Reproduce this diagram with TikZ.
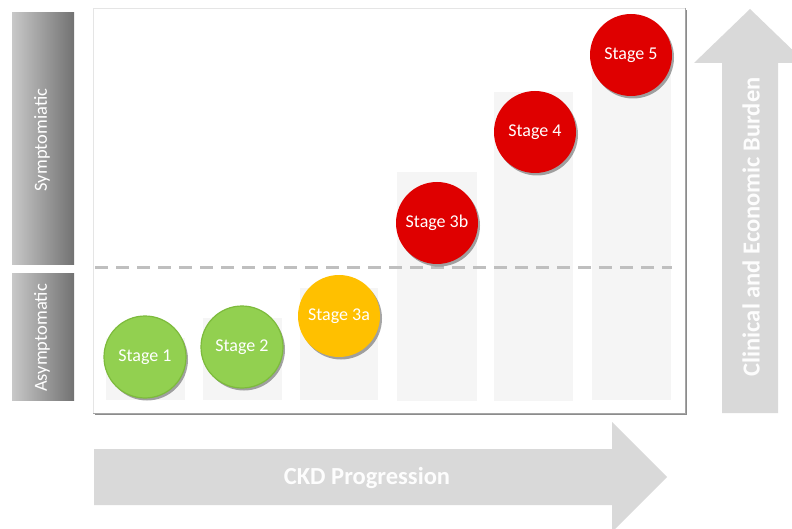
\documentclass[tikz,border=0pt]{standalone}
\usepackage{fontspec}
\setmainfont{Carlito}
\usetikzlibrary{shadows}
\definecolor{colgray}{HTML}{F5F5F5}
\definecolor{arrgray}{HTML}{D9D9D9}
\definecolor{dashgray}{HTML}{BFBFBF}
\definecolor{stgreen}{HTML}{92D050}
\definecolor{stgreenedge}{HTML}{7DBB3C}
\definecolor{styellow}{HTML}{FFC000}
\definecolor{stred}{HTML}{DF0000}
\definecolor{barlight}{HTML}{C8C8C8}
\definecolor{bardark}{HTML}{727272}
\tikzset{
  stage/.style={circle, minimum size=82pt, inner sep=0pt, text=white, font=\fontsize{18}{20}\selectfont,
    drop shadow={shadow xshift=2pt, shadow yshift=-2.5pt, opacity=.35, fill=black}},
  colbar/.style={fill=colgray, draw=none},
  sidebar/.style={left color=barlight, right color=bardark, draw=none},
  sidetext/.style={text=white, rotate=90, font=\fontsize{18.5}{20}\selectfont},
  bigarrow/.style={fill=arrgray, draw=none},
  arrowtext/.style={text=white!95!arrgray, font=\bfseries\fontsize{24.5}{26}\selectfont}
}
\begin{document}
\begin{tikzpicture}[x=1pt,y=-1pt]
\useasboundingbox (0,0) rectangle (792,529);
\fill[white] (0,0) rectangle (792,529);
% side bars
\shade[sidebar] (12,13) rectangle (74,265);
\shade[sidebar] (12,274) rectangle (74,400);
\node[sidetext] (sym) at (42,140) {Symptomiatic};
\node[sidetext] (asym) at (42,338) {Asymptomatic};
% panel
\draw[fill=white, draw=black!10, line width=0.6pt,
  drop shadow={shadow xshift=2.2pt, shadow yshift=-2.2pt, opacity=.45, fill=black}] (93,8) rectangle (685,413);
\draw[black!35, line width=1pt] (685,8) -- (685,413) -- (93,413);
% columns
\fill[colbar] (106,338) rectangle (185,400);
\fill[colbar] (203,318) rectangle (282,400);
\fill[colbar] (300,288) rectangle (378,400);
\fill[colbar] (397,172) rectangle (477,401);
\fill[colbar] (494,92) rectangle (573,401);
\fill[colbar] (592,50) rectangle (671,400);
% dashed threshold
\draw[dashgray, line width=3pt, dash pattern=on 13pt off 8pt] (95,268) -- (672,268);
% stages
\node[stage, fill=stgreen, draw=stgreenedge, line width=1.2pt] (s1) at (145,357) {Stage 1};
\node[stage, fill=stgreen, draw=stgreenedge, line width=1.2pt] (s2) at (242,347) {Stage 2};
\node[stage, fill=styellow] (s3a) at (339,316) {Stage 3a};
\node[stage, fill=stred] (s3b) at (437,223) {Stage 3b};
\node[stage, fill=stred] (s4) at (535,132) {Stage 4};
\node[stage, fill=stred] (s5) at (631,55) {Stage 5};
% up arrow
\fill[bigarrow] (722,413) -- (722,63) -- (694,63) -- (750,9) -- (806,63) -- (778,63) -- (778,413) -- cycle;
\node[arrowtext, rotate=90] (burden) at (751,227) {Clinical and Economic Burden};
% right arrow
\fill[bigarrow] (94,449) -- (612,449) -- (612,422) -- (667,477) -- (612,532) -- (612,505) -- (94,505) -- cycle;
\node[arrowtext] (ckd) at (367,478) {CKD Progression};
\end{tikzpicture}
\end{document}
